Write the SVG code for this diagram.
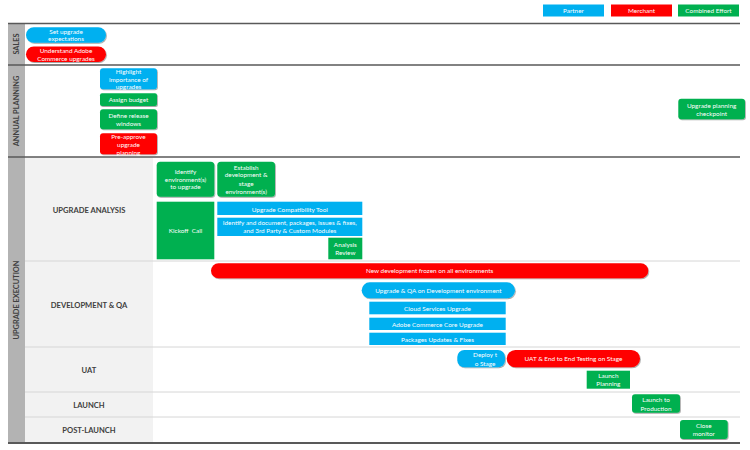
<svg xmlns="http://www.w3.org/2000/svg" width="750" height="450" viewBox="0 0 750 450">
<defs>
<filter id="sh" x="-10%" y="-20%" width="130%" height="150%">
<feDropShadow dx="0.8" dy="1" stdDeviation="0.7" flood-color="#000" flood-opacity="0.35"/>
</filter>
</defs>
<style>
.t{font-family:Lato,"Open Sans","Liberation Sans",sans-serif;font-size:6.4px;fill:#fff;text-anchor:middle}
.lab{font-family:Lato,"Open Sans","Liberation Sans",sans-serif;font-size:7.6px;font-weight:bold;fill:#404040;text-anchor:middle}
.vl{font-family:Lato,"Open Sans","Liberation Sans",sans-serif;font-size:7.4px;font-weight:bold;fill:#404040;text-anchor:middle}
.b{fill:#00B0F0}.r{fill:#FF0000}.g{fill:#00B050}
.sd{filter:url(#sh)}
.dk{stroke:#595959;stroke-width:1.3;fill:none}
.lt{stroke:#D6D6D6;stroke-width:1;fill:none}
</style>
<rect width="750" height="450" fill="#fff"/>
<g id="legend">
<rect class="b" x="543" y="4.5" width="61" height="12"/>
<text class="t" x="573.5" y="12.8">Partner</text>
<rect class="r" x="611" y="4.5" width="61" height="12"/>
<text class="t" x="641.5" y="12.8">Merchant</text>
<rect class="g" x="678" y="4.5" width="61" height="12"/>
<text class="t" x="708.5" y="12.8">Combined Effort</text>
</g>
<g id="lanes">
<rect x="8" y="23.5" width="17" height="419" fill="#B3B3B3"/>
<rect x="25" y="157" width="128" height="286" fill="#F2F2F2"/>
<line class="lt" x1="25" y1="261" x2="740" y2="261"/>
<line class="lt" x1="25" y1="347" x2="740" y2="347"/>
<line class="lt" x1="25" y1="392" x2="740" y2="392"/>
<line class="lt" x1="25" y1="417" x2="740" y2="417"/>
<line class="dk" x1="8" y1="23.5" x2="740" y2="23.5"/>
<line class="dk" x1="8" y1="65" x2="740" y2="65"/>
<line class="dk" x1="8" y1="157" x2="740" y2="157"/>
<line x1="8" y1="443" x2="740" y2="443" stroke="#595959" stroke-width="2"/>
<text class="vl" transform="translate(19.2,44) rotate(-90)">SALES</text>
<text class="vl" transform="translate(19.2,111) rotate(-90)">ANNUAL PLANNING</text>
<text class="vl" transform="translate(19.2,300) rotate(-90)">UPGRADE EXECUTION</text>
<text class="lab" x="89" y="213.4">UPGRADE ANALYSIS</text>
<text class="lab" x="89" y="308.4">DEVELOPMENT &amp; QA</text>
<text class="lab" x="89" y="373.4">UAT</text>
<text class="lab" x="89" y="407.7">LAUNCH</text>
<text class="lab" x="89" y="433.4">POST-LAUNCH</text>
</g>
<g id="n-set-expectations">
<rect class="b sd" x="26" y="27.3" width="80" height="15.5" rx="7.75"/>
<text class="t" x="66" y="33.9">Set upgrade</text>
<text class="t" x="66" y="41.4">expectations</text>
</g>
<g id="n-understand">
<rect class="r sd" x="26" y="46.6" width="80" height="15.5" rx="7.75"/>
<text class="t" x="66" y="53">Understand Adobe</text>
<text class="t" x="66" y="60.8">Commerce upgrades</text>
</g>
<g id="n-highlight">
<rect class="b sd" x="100" y="68.3" width="57" height="21" rx="3"/>
<text class="t" x="128.5" y="74">Highlight</text>
<text class="t" x="128.5" y="81.6">importance of</text>
<text class="t" x="128.5" y="89">upgrades</text>
</g>
<g id="n-budget">
<rect class="g sd" x="100" y="93.3" width="57" height="12.7" rx="2"/>
<text class="t" x="128.5" y="101.9">Assign budget</text>
</g>
<g id="n-release">
<rect class="g sd" x="100" y="109.3" width="57" height="20" rx="3"/>
<text class="t" x="128.5" y="117.6">Define release</text>
<text class="t" x="128.5" y="126.3">windows</text>
</g>
<g id="n-preapprove">
<rect class="r sd" x="100" y="133.3" width="57" height="21" rx="3"/>
<text class="t" x="128.5" y="139">Pre-approve</text>
<text class="t" x="128.5" y="147.3">upgrade</text>
<text class="t" x="128.5" y="155">planning</text>
</g>
<g id="n-checkpoint">
<rect class="g sd" x="678.3" y="98.7" width="66.7" height="20.6" rx="3"/>
<text class="t" x="711.6" y="108.3">Upgrade planning</text>
<text class="t" x="711.6" y="115.8">checkpoint</text>
</g>
<g id="n-identify-env">
<rect class="g sd" x="156.7" y="161.7" width="57.6" height="35" rx="3.5"/>
<text class="t" x="185.5" y="174">Identify</text>
<text class="t" x="185.5" y="181.6">environment(s)</text>
<text class="t" x="185.5" y="189">to upgrade</text>
</g>
<g id="n-establish">
<rect class="g sd" x="217.3" y="161.7" width="57.7" height="35" rx="3.5"/>
<text class="t" x="246.2" y="169.6">Establish</text>
<text class="t" x="246.2" y="177.3">development &amp;</text>
<text class="t" x="246.2" y="185.6">stage</text>
<text class="t" x="246.2" y="194">environment(s)</text>
</g>
<g id="n-kickoff">
<rect class="g" x="156.7" y="201.7" width="57.6" height="57.6"/>
<text class="t" x="185.5" y="233.3" xml:space="preserve">Kickoff  Call</text>
</g>
<g id="n-uct">
<rect class="b" x="217.3" y="201.7" width="145" height="13.3"/>
<text class="t" x="289.8" y="211.6">Upgrade Compatibility Tool</text>
</g>
<g id="n-identify-doc">
<rect class="b" x="217.3" y="217.7" width="145" height="18.3"/>
<text class="t" x="289.8" y="225">Identify and document, packages, issues &amp; fixes,</text>
<text class="t" x="289.8" y="233.3">and 3rd Party &amp; Custom Modules</text>
</g>
<g id="n-analysis-review">
<rect class="g" x="328.3" y="237.7" width="34" height="21.6"/>
<text class="t" x="345.3" y="247.3">Analysis</text>
<text class="t" x="345.3" y="255.3">Review</text>
</g>
<g id="n-frozen">
<rect class="r sd" x="211" y="263.3" width="437.3" height="15" rx="7.5"/>
<text class="t" x="429.6" y="273">New development frozen on all environments</text>
</g>
<g id="n-upgrade-qa">
<rect class="b sd" x="361.7" y="282.3" width="153.3" height="16" rx="8"/>
<text class="t" x="438.4" y="293">Upgrade &amp; QA on Development environment</text>
</g>
<g id="n-cloud">
<rect class="b" x="369.3" y="301.7" width="136.4" height="12.6"/>
<text class="t" x="437.5" y="310.6">Cloud Services Upgrade</text>
</g>
<g id="n-core">
<rect class="b" x="369.3" y="317.7" width="136.4" height="12.3"/>
<text class="t" x="437.5" y="326.6">Adobe Commerce Core Upgrade</text>
</g>
<g id="n-packages">
<rect class="b" x="369.3" y="332.7" width="136.4" height="12.3"/>
<text class="t" x="437.5" y="341.6">Packages Updates &amp; Fixes</text>
</g>
<g id="n-deploy">
<rect class="b sd" x="457.3" y="350" width="47.7" height="17.3" rx="7"/>
<text class="t" x="485" y="357.3">Deploy t</text>
<text class="t" x="485" y="365.6">o Stage</text>
</g>
<g id="n-uat">
<rect class="r sd" x="506.7" y="350" width="133.3" height="17.3" rx="8.6"/>
<text class="t" x="573.4" y="361.3">UAT &amp; End to End Testing on Stage</text>
</g>
<g id="n-launch-planning">
<rect class="g" x="586.7" y="370.7" width="43.3" height="18"/>
<text class="t" x="608.4" y="378">Launch</text>
<text class="t" x="608.4" y="386.3">Planning</text>
</g>
<g id="n-launch-prod">
<rect class="g sd" x="632" y="394.3" width="48" height="18.4" rx="3"/>
<text class="t" x="656" y="402.3">Launch to</text>
<text class="t" x="656" y="410.6">Production</text>
</g>
<g id="n-close">
<rect class="g sd" x="680" y="420" width="47.7" height="19" rx="3"/>
<text class="t" x="703.8" y="428">Close</text>
<text class="t" x="703.8" y="436.3">monitor</text>
</g>
<g id="connectors"/>
</svg>
